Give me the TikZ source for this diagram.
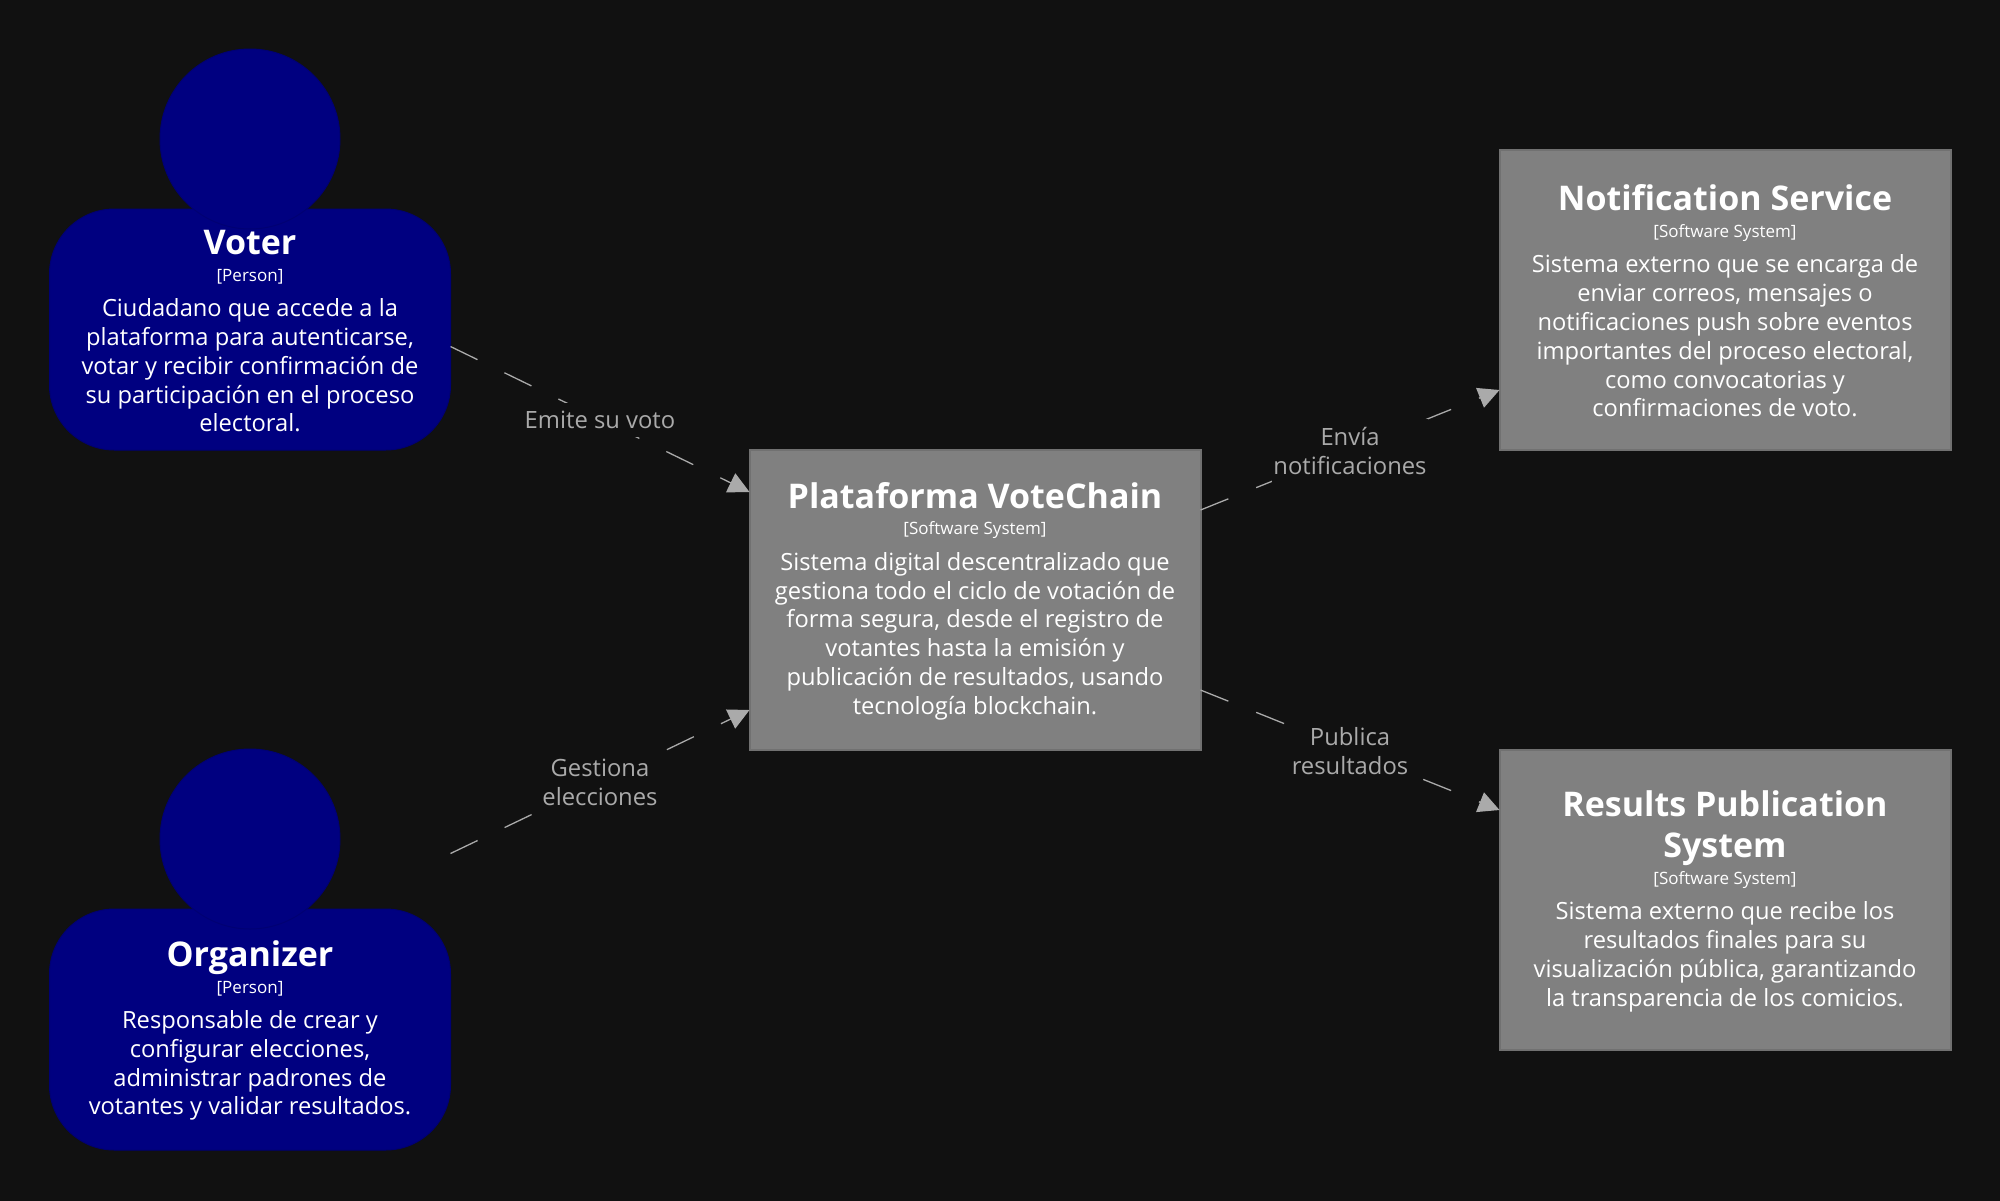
\documentclass[tikz,border=0pt]{standalone}
\usepackage{fontspec}
\setmainfont{Open Sans}
\usetikzlibrary{arrows.meta, positioning}
\definecolor{bgcol}{HTML}{111111}
\definecolor{personcol}{HTML}{000080}
\definecolor{syscol}{HTML}{808080}
\definecolor{linecol}{HTML}{AAAAAA}
\newcommand{\nodetitle}[1]{{\fontsize{34}{38}\selectfont\bfseries\rule{0pt}{28pt}#1}}
\newcommand{\nodekind}[1]{{\fontsize{17}{22}\selectfont [#1]}}
\begin{document}
\begin{tikzpicture}[
        x=1pt, y=1pt,
        node distance=0pt,
        base/.style={text=white, align=center, inner sep=0pt, outer sep=0pt,
                    font=\fontsize{23.7}{28.8}\selectfont},
        sysbox/.style={base, rectangle, draw=syscol!88!black, line width=2pt, fill=syscol,
                    minimum width=451pt, minimum height=300pt},
        personbody/.style={base, rectangle, rounded corners=65pt, draw=personcol!90!black,
                    line width=1pt, fill=personcol, minimum width=401pt, minimum height=241pt},
        personhead/.style={circle, draw=personcol!90!black, line width=1pt, fill=personcol,
                    minimum size=180pt, inner sep=0pt, outer sep=0pt},
        rel/.style={-{Triangle[length=21pt, width=21pt]}, line width=1.3pt, linecol,
                    dash pattern=on 30pt off 30pt},
        lbl/.style={midway, yshift=-1pt, fill=bgcol, text=linecol, align=center, inner xsep=1pt, inner ysep=8pt,
                    font=\fontsize{23.8}{28.8}\selectfont},
    ]
    \useasboundingbox (0,0) rectangle (2000,-1200);
    \fill[bgcol] (-2,2) rectangle (2002,-1202);
    \node[sysbox] (plat) at (975,-600) {\nodetitle{Plataforma VoteChain}\\[-2pt] \nodekind{Software System}\\[6.5pt]
        Sistema digital descentralizado que\\ gestiona todo el ciclo de votación de\\
        forma segura, desde el registro de\\ votantes hasta la emisión y\\
        publicación de resultados, usando\\ tecnología blockchain.};
    \node[sysbox, above right=0pt and 299pt of plat] (notif) {\nodetitle{Notification Service}\\[-2pt] \nodekind{Software System}\\[6.5pt]
        Sistema externo que se encarga de\\ enviar correos, mensajes o\\
        notificaciones push sobre eventos\\ importantes del proceso electoral,\\
        como convocatorias y\\ confirmaciones de voto.};
    \node[sysbox, below right=0pt and 299pt of plat] (results) {\nodetitle{Results Publication}\\[13pt] \nodetitle{System}\\[-2pt] \nodekind{Software System}\\[6.5pt]
        Sistema externo que recibe los\\ resultados finales para su\\
        visualización pública, garantizando\\ la transparencia de los comicios.};
    \node[personbody, above left=0pt and 299pt of plat] (voter) {\nodetitle{Voter}\\[-2pt] \nodekind{Person}\\[6.5pt]
        Ciudadano que accede a la\\ plataforma para autenticarse,\\
        votar y recibir confirmación de\\ su participación en el proceso\\ electoral.};
    \node[personhead, above=-20pt of voter] (voterhead) {};
    \node[personbody, below=459pt of voter] (org) {\nodetitle{Organizer}\\[-2pt] \nodekind{Person}\\[6.5pt]
        Responsable de crear y\\ configurar elecciones,\\
        administrar padrones de\\ votantes y validar resultados.};
    \node[personhead, above=-20pt of org] (orghead) {};
    \draw[rel] ([yshift=-17pt]voter.east) -- ([yshift=108pt]plat.west) node[lbl] (emite) {Emite su voto};
    \draw[rel] ([yshift=176pt]org.east) -- ([yshift=-110pt]plat.west) node[lbl] (gestiona) {Gestiona\\ elecciones};
    \draw[rel] ([yshift=90pt]plat.east) -- ([yshift=-90pt]notif.west) node[lbl] (envia) {Envía\\ notificaciones};
    \draw[rel] ([yshift=-90pt]plat.east) -- ([yshift=90pt]results.west) node[lbl] (publica) {Publica\\ resultados};
    \end{tikzpicture}
\end{document}
